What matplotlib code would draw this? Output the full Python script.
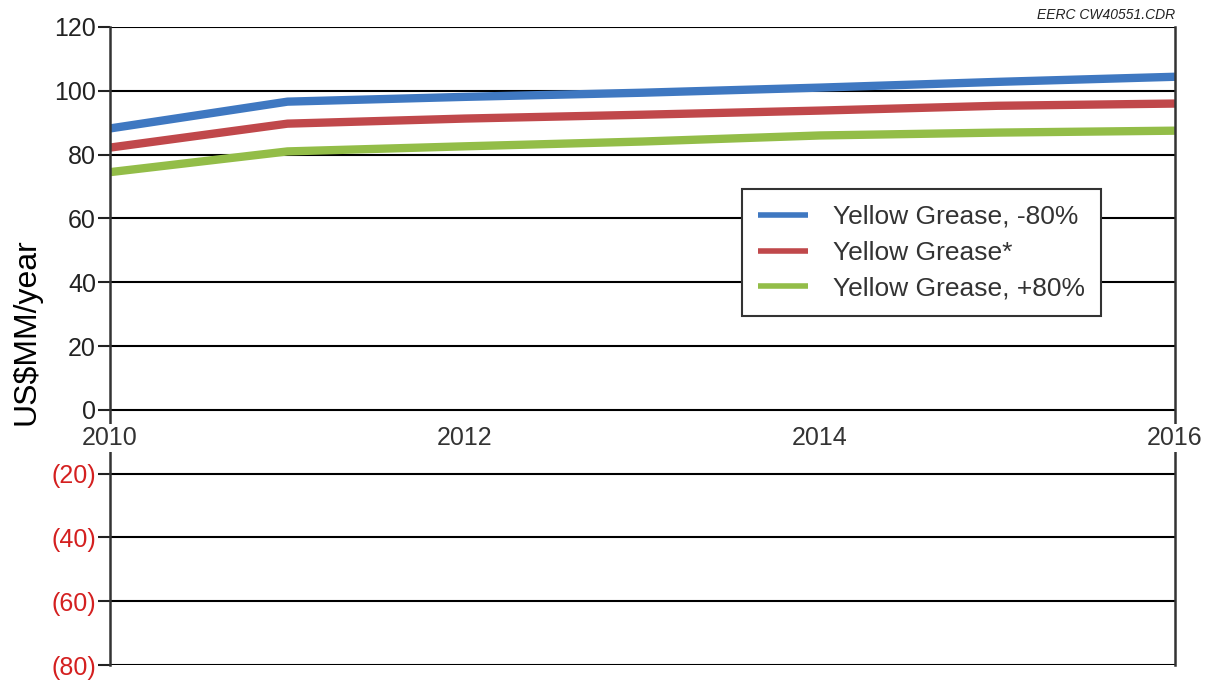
import matplotlib.pyplot as plt
from matplotlib.ticker import FuncFormatter

plt.rcParams['font.family'] = ['Liberation Sans', 'DejaVu Sans']

# annual cost, US$MM/year
years = [2010, 2011, 2012, 2013, 2014, 2015, 2016]
grease_minus80 = [88.2, 96.6, 98.1, 99.4, 101.0, 102.8, 104.4]
grease_base = [82.2, 89.7, 91.3, 92.5, 93.8, 95.3, 96.0]
grease_plus80 = [74.5, 81.0, 82.6, 84.1, 86.0, 86.9, 87.5]

series = [
  ("Yellow Grease, -80%", grease_minus80, "#3f78c1"),
  ("Yellow Grease*", grease_base, "#c0484b"),
  ("Yellow Grease, +80%", grease_plus80, "#93bd48"),
]

y_ticks = list(range(-80, 121, 20))
x_ticks = [2010, 2012, 2014, 2016]

fig = plt.figure(figsize=(12.06, 6.87), dpi=100)
ax = fig.add_axes([0.0912, 0.032, 0.8831, 0.9287])

for name, vals, col in series:
  ax.plot(years, vals, color=col, lw=6, label=name, solid_capstyle='butt', zorder=2)

ax.set_xlim(2010, 2016)
ax.set_ylim(-80, 120)
ax.set_yticks(y_ticks)
ax.set_xticks(x_ticks)

# negative values shown in parentheses, in red
ax.yaxis.set_major_formatter(FuncFormatter(lambda v, p: f"({abs(int(v))})" if v < 0 else f"{int(v)}"))
ax.tick_params(axis='y', length=9, width=1.5, colors='#222222', labelsize=18, pad=1)
for lbl, v in zip(ax.get_yticklabels(), y_ticks):
  if v < 0:
    lbl.set_color('#d42020')

ax.yaxis.grid(True, color='black', lw=1.5)
ax.set_axisbelow(True)

# x axis sits on the zero line
ax.spines['top'].set_visible(False)
ax.spines['bottom'].set_position(('data', 0))
ax.spines['bottom'].set_visible(False)
for side in ('left', 'right'):
  ax.spines[side].set_color('#333333')
  ax.spines[side].set_linewidth(1.8)
ax.tick_params(axis='x', length=0, labelsize=18, colors='#333333', pad=12)
for lbl in ax.get_xticklabels():
  lbl.set_bbox(dict(facecolor='white', edgecolor='none', pad=1.5))
ax.xaxis.set_zorder(3)

ax.set_ylabel("US$MM/year", fontsize=23, color='black')
ax.yaxis.set_label_coords(-0.064, 0.523)

leg = ax.legend(loc='upper left', bbox_to_anchor=(0.5935, 0.746), borderaxespad=0,
                fontsize=19, frameon=True, fancybox=False, framealpha=1, handlelength=1.9,
                labelspacing=0.45, borderpad=0.6, handletextpad=0.95, labelcolor='#333333')
leg.get_frame().set_edgecolor('#333333')
leg.get_frame().set_linewidth(1.5)
for h in leg.get_lines():
  h.set_linewidth(4)

fig.text(0.974, 0.978, "EERC CW40551.CDR", ha='right', va='center', fontsize=10,
         style='italic', color='#222222')

fig.savefig("out.png", dpi=100)
